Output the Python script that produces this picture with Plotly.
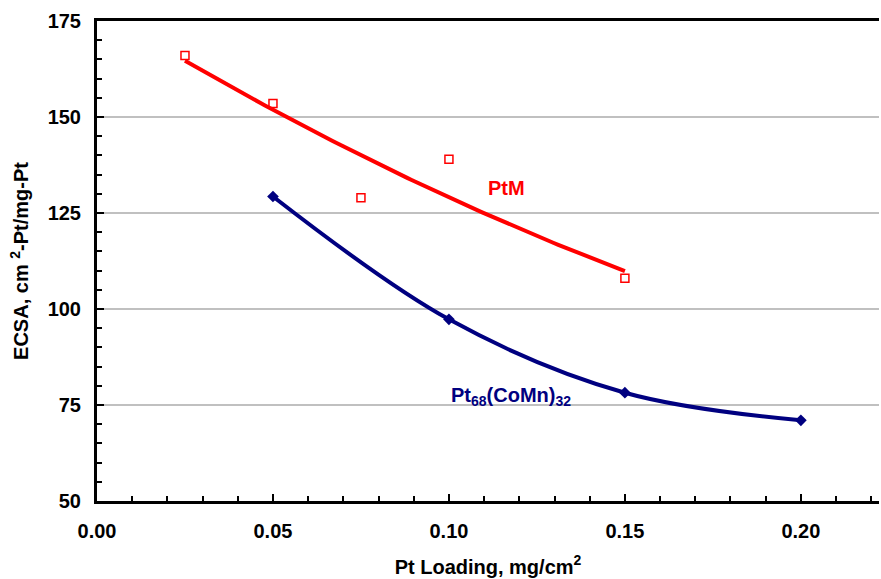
import numpy as np
import plotly.graph_objects as go

# PtM data
ptm_x = [0.025, 0.05, 0.075, 0.10, 0.15]
ptm_y = [166.0, 153.5, 129.0, 139.0, 108.0]

# Pt68(CoMn)32 data
ptc_x = [0.05, 0.10, 0.15, 0.20]
ptc_y = [129.3, 97.3, 78.2, 71.0]

x_ticks = [0.00, 0.05, 0.10, 0.15, 0.20]
x_ticklabels = ["0.00", "0.05", "0.10", "0.15", "0.20"]
y_ticks = [50, 75, 100, 125, 150, 175]

RED = "#ff0000"
NAVY = "#000080"
FONT = "Liberation Sans"

# quadratic trendline for PtM
coef = np.polyfit(ptm_x, ptm_y, 2)
tx = np.linspace(min(ptm_x), max(ptm_x), 100)
ty = np.polyval(coef, tx)

fig = go.Figure()
fig.add_trace(go.Scatter(x=tx, y=ty, mode="lines",
                         line=dict(color=RED, width=4), hoverinfo="skip", showlegend=False))
fig.add_trace(go.Scatter(x=ptm_x, y=ptm_y, mode="markers",
                         marker=dict(symbol="square-open", size=8, color=RED, line=dict(width=1.5, color=RED)),
                         showlegend=False, name="PtM"))
fig.add_trace(go.Scatter(x=ptc_x, y=ptc_y, mode="lines+markers",
                         line=dict(color=NAVY, width=4, shape="spline", smoothing=1.0),
                         marker=dict(symbol="diamond", size=9, color=NAVY),
                         showlegend=False, name="Pt68(CoMn)32"))

fig.add_annotation(x=0.1164, y=131.6, text="<b>PtM</b>", showarrow=False,
                   font=dict(family=FONT, size=20, color=RED))
fig.add_annotation(x=0.1176, y=77.2, text="<b>Pt<sub>68</sub>(CoMn)<sub>32</sub></b>", showarrow=False,
                   font=dict(family=FONT, size=20, color=NAVY))

fig.update_layout(
    width=881, height=579,
    margin=dict(l=97, r=2, t=21, b=78),
    paper_bgcolor="white", plot_bgcolor="white",
    font=dict(family=FONT, size=20, color="black"),
    xaxis=dict(
        range=[0, 0.2222], automargin=False,
        tickmode="array", tickvals=x_ticks, ticktext=["<b>%s</b>" % t for t in x_ticklabels],
        ticks="inside", ticklen=7, tickwidth=1.5, tickcolor="black",
        minor=dict(dtick=0.01, ticks="inside", ticklen=5, tickwidth=1.5, tickcolor="black", showgrid=False),
        showline=True, linecolor="black", linewidth=3, mirror=True,
        showgrid=False, zeroline=False, ticklabelstandoff=10,
        title=dict(text="<b>Pt Loading, mg/cm<sup>2</sup></b>", font=dict(size=20), standoff=19),
        tickfont=dict(size=20),
    ),
    yaxis=dict(
        range=[50, 175], automargin=False,
        tickmode="array", tickvals=y_ticks, ticktext=["<b>%d</b>" % v for v in y_ticks],
        ticks="inside", ticklen=7, tickwidth=1.5, tickcolor="black",
        minor=dict(dtick=5, ticks="inside", ticklen=5, tickwidth=1.5, tickcolor="black", showgrid=False),
        showline=True, linecolor="black", linewidth=3, mirror=False,
        showgrid=True, gridcolor="#c0c0c0", gridwidth=1.5, zeroline=False, ticklabelstandoff=9,
        title=dict(text="<b>ECSA, cm <sup>2</sup>-Pt/mg-Pt</b>", font=dict(size=20), standoff=14),
        tickfont=dict(size=20),
    ),
)

fig.write_html("out.html", config={"displayModeBar": False},
               post_script="document.body.style.margin='0';document.body.style.overflow='hidden';")
